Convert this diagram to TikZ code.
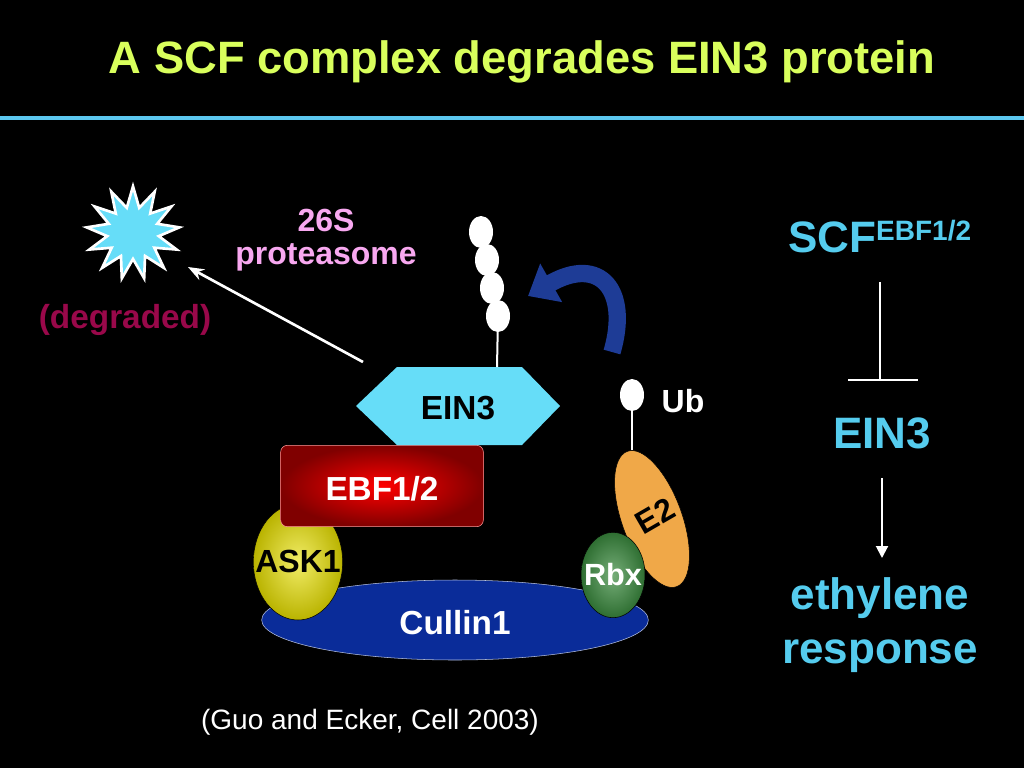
\documentclass[tikz,border=0pt]{standalone}
\usepackage{fontspec}
\setmainfont{Liberation Sans}
\usetikzlibrary{arrows.meta,shapes.geometric,shapes.misc}
\definecolor{titlec}{HTML}{D9FF5C}
\definecolor{linec}{HTML}{5CC8F0}
\definecolor{cyanf}{HTML}{66DDF8}
\definecolor{maroon}{HTML}{99084A}
\definecolor{pinkc}{HTML}{F8A8F0}
\definecolor{arrowblue}{HTML}{1E3C96}
\definecolor{orangef}{HTML}{F0A848}
\definecolor{greenf}{HTML}{3A8A3E}
\definecolor{cullin}{HTML}{0A2C99}
\definecolor{yellowf}{HTML}{E8E000}
\definecolor{rightc}{HTML}{55CCEE}
\tikzset{
  fz/.style={font=\fontsize{#1}{1.15\dimexpr#1pt\relax}\selectfont\bfseries},
  ub/.style={ellipse,fill=white,minimum width=18,minimum height=24,inner sep=0},
  stem/.style={white,line width=1.5},
}
\begin{document}
\begin{tikzpicture}[x=0.75pt,y=-0.75pt]
\fill[black] (0,0) rectangle (1024,768);
\useasboundingbox (0,0) rectangle (1024,768);
\node[fz=34,text=titlec] (title) at (522,62) {A SCF complex degrades EIN3 protein};
\draw[linec,line width=2.5] (0,118) -- (1024,118);
% starburst
\node[star,star points=13,star point ratio=1.8,fill=cyanf,draw=white,line width=2,minimum size=70,inner sep=0] (burst) at (133,233) {};
\node[fz=25,text=maroon] (degr) at (125,320) {(degraded)};
\node[fz=24,text=pinkc,align=center,font=\fontsize{24}{25}\selectfont\bfseries] (prot) at (326,240) {26S\\proteasome};
% Cullin
\node[ellipse,minimum width=290,minimum height=60,fill=cullin,draw=white!70!cullin,inner sep=0] (cul) at (455,620) {};
\node[fz=25,text=white] at (455,623) {Cullin1};
\node[ellipse,minimum width=67,minimum height=87,inner sep=0,draw=black,inner color=yellowf!60!white,outer color=yellowf!80!black] (ask) at (298,562) {};
\node[fz=24,text=black] at (298,561) {ASK1};
\node[rounded corners=5,minimum width=152,minimum height=61,draw=white!60!red,inner color=red,outer color=red!50!black] (ebf) at (382,486) {};
\node[fz=25,text=white] at (382,489) {EBF1/2};
\node[ellipse,minimum width=45,minimum height=108,rotate=20,fill=orangef,draw=black,inner sep=0] (e2) at (652,519) {};
\node[fz=24,rotate=30] at (655,516) {E2};
\node[ellipse,minimum width=48,minimum height=64,draw=black,inner color=greenf!70!white,outer color=greenf!80!black,inner sep=0] (rbx) at (613,575) {};
\node[fz=23,text=white] at (613,575) {Rbx};
% EIN3 hexagon
\fill[cyanf] (356,406) -- (397,367) -- (522,367) -- (560,406) -- (522,445) -- (397,445) -- cycle;
\node[fz=25] (ein) at (458,408) {EIN3};
\coordinate (einl) at (363,362);
% ubiquitin chain
\coordinate (st1) at (497,367);
\draw[stem] (st1) -- (498,316);
\node[ub] (u4) at (498,316) {};
\node[ub] (u3) at (492,288) {};
\node[ub] (u2) at (487,260) {};
\node[ub] (u1) at (481,232) {};
% single Ub
\coordinate (st2) at (632,450);
\draw[stem] (st2) -- (632,395);
\node[ub] (ubs) at (632,395) {};
\node[fz=24,text=white,anchor=west] (ubt) at (657,401) {Ub};
% blue curved arrow
\coordinate (ba) at (612,352);
\coordinate (bb) at (528,296);
\draw[arrowblue,line width=13,-{Triangle[width=32,length=20]}] (ba) .. controls (630,290) and (600,255) .. (bb);
% degradation arrow
\draw[white,line width=2,-{Stealth[length=12,width=9]}] (einl) -- (188,267);
% right panel
\node[fz=33,text=rightc] (scf) at (880,237) {SCF\textsuperscript{\fontsize{21}{21}\selectfont\bfseries EBF1/2}};
\node[fz=33,text=rightc] (ein3r) at (882,433) {EIN3};
\coordinate (tb) at (880,380);
\draw[white,line width=2] (880,282) -- (tb);
\draw[white,line width=2] (848,380) -- (918,380);
\coordinate (at1) at (882,478);
\coordinate (at2) at (882,558);
\draw[white,line width=1.5,-{Triangle[length=9,width=9]}] (at1) -- (at2);
\node[text=rightc,align=center,font=\fontsize{33}{40}\selectfont\bfseries] (eth) at (880,625) {ethylene\\ response};
\node[font=\fontsize{21}{21}\selectfont,text=white] (cite) at (370,722) {(Guo and Ecker, Cell 2003)};
\end{tikzpicture}
\end{document}
